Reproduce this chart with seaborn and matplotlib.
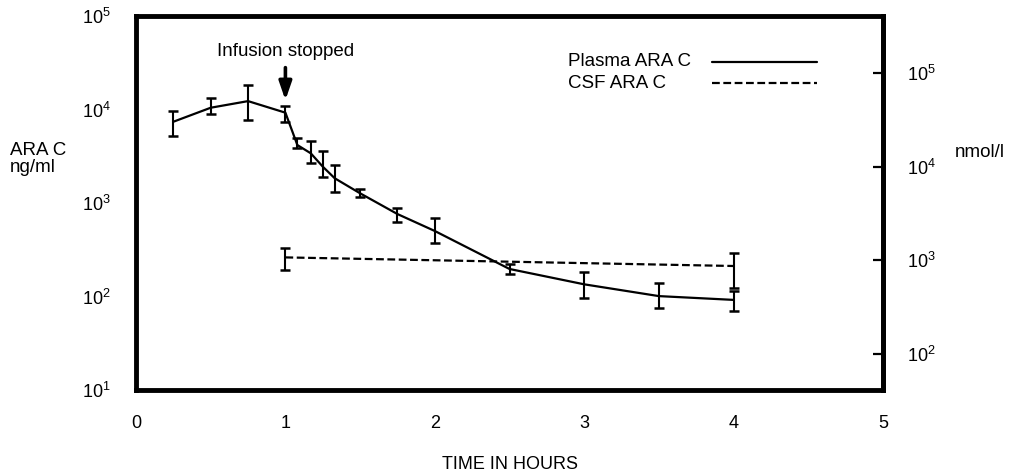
import numpy as np
import pandas as pd
import matplotlib
matplotlib.use("Agg")
import matplotlib.pyplot as plt
from matplotlib.ticker import NullLocator, LogFormatterSciNotation
from matplotlib.lines import Line2D
import seaborn as sns

# ---- data ----
plasma_time = [0.25, 0.5, 0.75, 1.0, 1.08, 1.17, 1.25, 1.33, 1.5, 1.75, 2.0, 2.5, 3.0, 3.5, 4.0]
plasma_mean = [7400, 10450, 12300, 9250, 4170, 3400, 2450, 1840, 1270, 762, 502, 197, 135, 101, 92]
plasma_low = [5200, 8900, 7700, 7300, 3850, 2660, 1910, 1300, 1150, 621, 376, 174, 96, 75, 70]
plasma_high = [9640, 13270, 18300, 10900, 4990, 4570, 3600, 2550, 1410, 891, 697, 221, 181, 138, 115]

csf_time = [1.0, 4.0]
csf_mean = [262, 212]
csf_low = [192, 124]
csf_high = [333, 290]

NG_TO_NMOL = 1e6 / 243.2 / 1e3  # ng/ml -> nmol/l (MW 243.2)

x_ticks = [0, 1, 2, 3, 4, 5]
y_ticks = [1e1, 1e2, 1e3, 1e4, 1e5]
y2_ticks = [1e2, 1e3, 1e4, 1e5]

sns.set_theme(style="white")
plt.rcParams["font.family"] = ["Liberation Sans", "DejaVu Sans"]
plt.rcParams["mathtext.fontset"] = "custom"
plt.rcParams["mathtext.rm"] = "Liberation Sans"
plt.rcParams["mathtext.it"] = "Liberation Sans:italic"
plt.rcParams["mathtext.bf"] = "Liberation Sans:bold"
for k in ["text.color", "axes.labelcolor", "xtick.color", "ytick.color", "axes.edgecolor"]:
    plt.rcParams[k] = "black"

FS = 13
fig = plt.figure(figsize=(10.18, 4.74), dpi=100)
ax = fig.add_axes([0.1336, 0.1772, 0.8674 - 0.1336, 0.9662 - 0.1772])

df_p = pd.DataFrame({"t": plasma_time, "v": plasma_mean})
df_c = pd.DataFrame({"t": csf_time, "v": csf_mean})

sns.lineplot(data=df_p, x="t", y="v", ax=ax, color="black", lw=1.6, estimator=None)
sns.lineplot(data=df_c, x="t", y="v", ax=ax, color="black", lw=1.6, estimator=None,
             linestyle=(0, (3.5, 1.6)))

pm = np.array(plasma_mean, float)
ax.errorbar(plasma_time, pm, yerr=[pm - np.array(plasma_low), np.array(plasma_high) - pm],
            fmt="none", ecolor="black", elinewidth=1.5, capsize=3.5, capthick=1.8)
cm = np.array(csf_mean, float)
ax.errorbar(csf_time, cm, yerr=[cm - np.array(csf_low), np.array(csf_high) - cm],
            fmt="none", ecolor="black", elinewidth=1.5, capsize=3.5, capthick=1.8)

ax.set_yscale("log")
ax.set_xlim(0, 5)
ax.set_ylim(1e1, 1e5)
ax.set_xticks(x_ticks)
ax.set_yticks(y_ticks)
ax.yaxis.set_minor_locator(NullLocator())
ax.yaxis.set_major_formatter(LogFormatterSciNotation())
ax.set_xlabel("TIME IN HOURS", fontsize=FS, labelpad=17)
ax.set_ylabel("")

for s in ax.spines.values():
    s.set_linewidth(3.5)
    s.set_color("black")

ax.tick_params(axis="both", direction="in", length=7, width=1.6, colors="black",
               labelsize=FS, top=False, right=False)
ax.tick_params(axis="y", pad=18)
ax.tick_params(axis="x", pad=18)

sec = ax.secondary_yaxis("right", functions=(lambda v: v * NG_TO_NMOL, lambda v: v / NG_TO_NMOL))
sec.set_yticks(y2_ticks)
sec.yaxis.set_minor_locator(NullLocator())
sec.yaxis.set_major_formatter(LogFormatterSciNotation())
sec.tick_params(axis="y", direction="in", length=7, width=1.6, colors="black",
                labelsize=FS, pad=17)
sec.spines["right"].set_linewidth(3.5)

# axis titles
fig.text(10 / 1018, 1 - 155 / 474, "ARA C", fontsize=FS + 0.5, ha="left", va="baseline")
fig.text(10 / 1018, 1 - 172 / 474, "ng/ml", fontsize=FS + 0.5, ha="left", va="baseline")
fig.text(955 / 1018, 1 - 157 / 474, "nmol/l", fontsize=FS + 0.5, ha="left", va="baseline")

# annotation
ax.text(1.0, 0.905, "Infusion stopped", transform=ax.get_xaxis_transform(),
        ha="center", va="center", fontsize=FS + 0.5)
ax.annotate("", xy=(1.0, 0.775), xycoords=("data", "axes fraction"),
            xytext=(1.0, 0.862), textcoords=("data", "axes fraction"),
            arrowprops=dict(arrowstyle="-|>,head_length=1.1,head_width=0.38",
                            mutation_scale=10, lw=2.6, color="black",
                            shrinkA=0, shrinkB=0))

# legend (text left, line right)
leg_labels = ["Plasma ARA C", "CSF ARA C"]
leg_styles = ["-", (0, (3.5, 1.6))]
leg_y = [0.878, 0.820]
for lab, ls, yy in zip(leg_labels, leg_styles, leg_y):
    ax.text(0.578, yy, lab, transform=ax.transAxes, ha="left", va="center", fontsize=FS + 0.5)
    ax.add_line(Line2D([0.771, 0.912], [yy, yy], transform=ax.transAxes,
                       color="black", lw=1.6, linestyle=ls))

fig.savefig("out.png", dpi=100)
